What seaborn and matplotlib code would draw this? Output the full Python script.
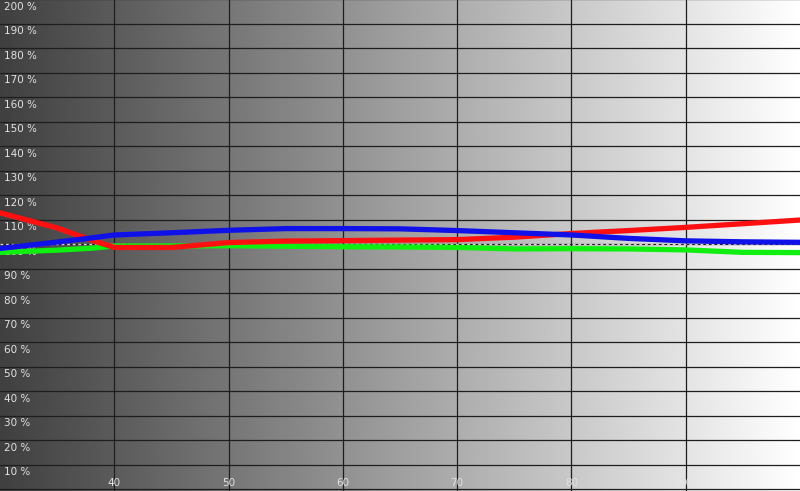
import numpy as np
import pandas as pd
import matplotlib
matplotlib.use("Agg")
import matplotlib.pyplot as plt
import seaborn as sns

# ---- data ----
stimulus = [30, 35, 38, 40, 45, 50, 55, 60, 65, 70, 75, 80, 85, 90, 95, 100]
red = [112.7, 106.5, 101.5, 98.6, 98.6, 100.6, 101.2, 101.4, 101.6, 101.8, 102.8, 104.3, 105.5, 106.8, 108.3, 109.8]
green = [96.6, 97.5, 98.3, 99.2, 99.2, 99.3, 99.1, 98.9, 98.8, 98.6, 98.0, 98.1, 98.0, 97.6, 96.6, 96.5]
blue = [98.2, 100.8, 102.5, 103.7, 104.6, 105.6, 106.3, 106.3, 106.2, 105.5, 104.6, 103.7, 102.3, 101.3, 100.9, 100.7]
y_ticks = list(range(10, 201, 10))
y_labels = [f"{v} %" for v in y_ticks]
x_ticks = [40, 50, 60, 70, 80, 90]
x_labels = ["40", "50", "60", "70", "80", "90"]
reference = 100

df = pd.DataFrame({"x": stimulus * 3,
                   "value": red + green + blue,
                   "channel": ["R"] * len(stimulus) + ["G"] * len(stimulus) + ["B"] * len(stimulus)})

sns.set_theme(style="white")
plt.rcParams["font.family"] = ["DejaVu Sans"]

fig = plt.figure(figsize=(8, 4.91), dpi=100)
ax = fig.add_axes([0, 0, 1, 1])
ax.set_xlim(30, 100)
ax.set_ylim(-0.8, 199.6)

# gradient background
grad = np.linspace(0.25, 1.0, 512).reshape(1, -1)
ax.imshow(grad, cmap="gray", vmin=0, vmax=1, aspect="auto",
          extent=[30, 100, -0.8, 199.6], zorder=0, interpolation="bilinear")

# grid
for v in y_ticks:
    ax.axhline(v, color="#1e1e1e", lw=0.9, zorder=1)
ax.axhline(0, color="#1e1e1e", lw=0.9, zorder=1)
for v in x_ticks:
    ax.axvline(v, color="#1e1e1e", lw=0.9, zorder=1)

# labels
for v, lab in zip(y_ticks, y_labels):
    ax.annotate(lab, xy=(0, v), xycoords=("axes fraction", "data"),
                xytext=(3, -2), textcoords="offset points", va="top", ha="left",
                fontsize=7.5, color="#e2e2e2", zorder=2)
for v, lab in zip(x_ticks, x_labels):
    ax.annotate(lab, xy=(v, 0), xycoords=("data", "axes fraction"),
                xytext=(0, 2), textcoords="offset points", va="bottom", ha="center",
                fontsize=7.5, color="#e2e2e2", zorder=2)

# reference line
ax.axhline(reference, color="#d8d8d8", lw=1.0, ls=(0, (2, 2)), zorder=3)

sns.lineplot(data=df, x="x", y="value", hue="channel",
             palette={"R": "#ff1010", "G": "#10f010", "B": "#1010e8"},
             hue_order=["G", "R", "B"], linewidth=3.8, legend=False, ax=ax, zorder=4)

ax.set_xticks([])
ax.set_yticks([])
ax.set_xlabel("")
ax.set_ylabel("")
for s in ax.spines.values():
    s.set_visible(False)

fig.savefig("out.png", dpi=100)
